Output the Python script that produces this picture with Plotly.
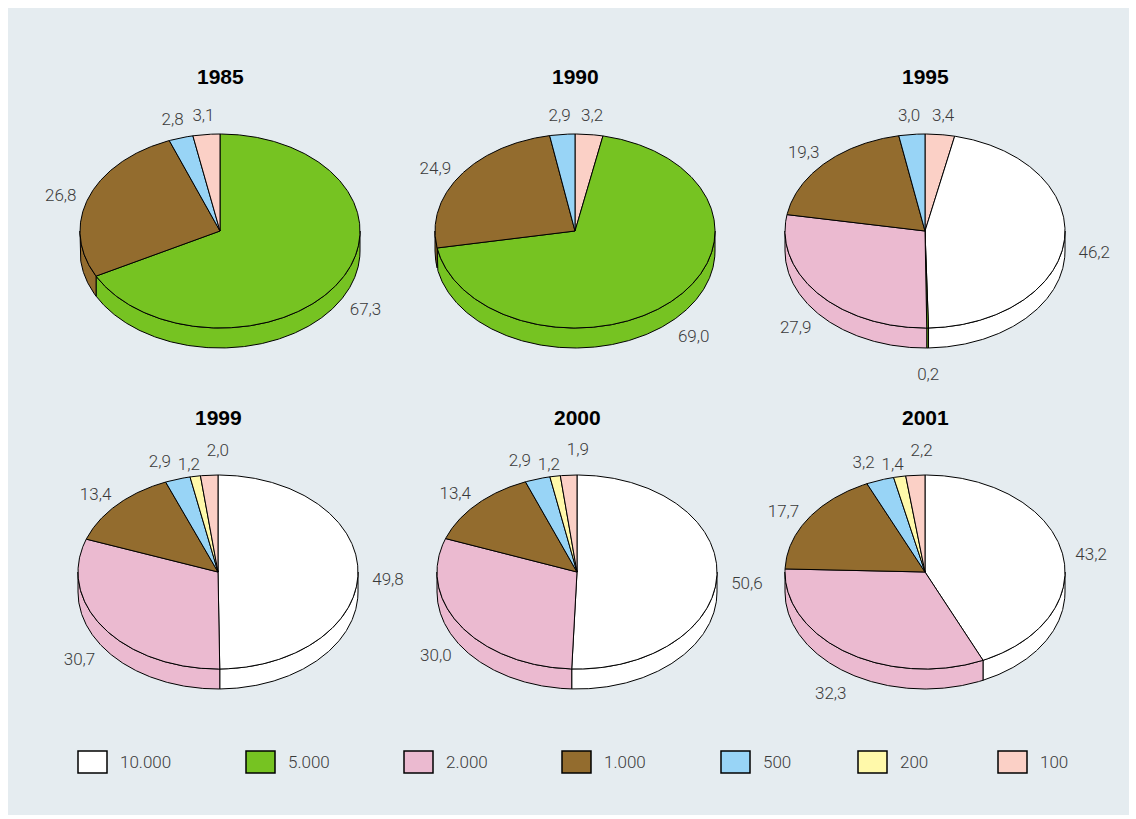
import numpy as np
import plotly.graph_objects as go

# ---------------- data ----------------
categories = ["10.000", "5.000", "2.000", "1.000", "500", "200", "100"]
colors = ["#ffffff", "#76c322", "#ebbad0", "#936c2e", "#98d4f6", "#fff9aa", "#fbd0c6"]
years = ["1985", "1990", "1995", "1999", "2000", "2001"]

share_1985 = [0.0, 67.3, 0.0, 26.8, 2.8, 0.0, 3.1]
share_1990 = [0.0, 69.0, 0.0, 24.9, 2.9, 0.0, 3.2]
share_1995 = [46.2, 0.2, 27.9, 19.3, 3.0, 0.0, 3.4]
share_1999 = [49.8, 0.0, 30.7, 13.4, 2.9, 1.2, 2.0]
share_2000 = [50.6, 0.0, 30.0, 13.4, 2.9, 1.2, 1.9]
share_2001 = [43.2, 0.0, 32.3, 17.7, 3.2, 1.4, 2.2]
shares = [share_1985, share_1990, share_1995, share_1999, share_2000, share_2001]

# category whose slice starts at 12 o'clock (slices run clockwise)
first_category = ["10.000", "100", "100", "10.000", "10.000", "10.000"]

# ---------------- layout constants ----------------
W, H = 1136, 819
CENTERS = [(220, 231), (575, 231), (925, 231), (218, 572), (577, 572), (925, 572)]
RX, RY, DEPTH = 140, 97, 20
TITLE_DY = -155
LABEL_FONT = dict(family="Roboto", size=17, color="#3a3a3a", weight=300)
MIN_GAP = 29  # minimal horizontal distance between crowded top labels

fig = go.Figure()


def ell(cx, cy, th_deg, dy=0.0):
    t = np.radians(th_deg)
    return cx + RX * np.sin(t), cy - RY * np.cos(t) + dy


def arc(a, b):
    n = max(2, int(abs(b - a) / 0.5) + 2)
    return np.linspace(a, b, n)


shapes = [dict(type="rect", xref="x", yref="y", x0=8, x1=1129, y0=8, y1=815,
               fillcolor="#e5ecf0", line=dict(width=0), layer="below")]
annotations = []

for year, vals, first, (cx, cy) in zip(years, shares, first_category, CENTERS):
    k = categories.index(first)
    order = [(k + i) % len(categories) for i in range(len(categories))]
    slices = []
    cum = 0.0
    total = sum(vals)
    for idx in order:
        v = vals[idx]
        if v <= 0:
            continue
        a = cum / total * 360.0
        b = (cum + v) / total * 360.0
        slices.append((idx, v, a, b))
        cum += v

    # side walls (front half only)
    for idx, v, a, b in slices:
        lo, hi = max(a, 90.0), min(b, 270.0)
        if hi <= lo:
            continue
        th = arc(lo, hi)
        xt, yt = ell(cx, cy, th)
        xb, yb = ell(cx, cy, th[::-1], DEPTH)
        xs = np.concatenate([xt, xb, xt[:1]])
        ys = np.concatenate([yt, yb, yt[:1]])
        fig.add_trace(go.Scatter(x=xs, y=ys, mode="lines", fill="toself",
                                 fillcolor=colors[idx], line=dict(color="black", width=1),
                                 hoverinfo="skip", showlegend=False))

    # top faces
    for idx, v, a, b in slices:
        th = arc(a, b)
        xa, ya = ell(cx, cy, th)
        xs = np.concatenate([[cx], xa, [cx]])
        ys = np.concatenate([[cy], ya, [cy]])
        fig.add_trace(go.Scatter(x=xs, y=ys, mode="lines", fill="toself",
                                 fillcolor=colors[idx], line=dict(color="black", width=1),
                                 hoverinfo="skip", showlegend=False))

    # value labels
    labels = []
    for idx, v, a, b in slices:
        m = np.radians((a + b) / 2)
        vv = -np.cos(m)
        labels.append([cx + 170 * np.sin(m), cy + 10 + 125 * vv + 10 * max(vv, 0),
                       f"{v:.1f}".replace(".", ","), vv < -0.85])
    # spread crowded labels near the top
    top = sorted([l for l in labels if l[3]], key=lambda l: l[0])
    for _ in range(60):
        for p, q in zip(top[:-1], top[1:]):
            d = q[0] - p[0]
            if d < MIN_GAP:
                s = (MIN_GAP - d) / 2
                p[0] -= s
                q[0] += s
    if len(top) >= 3:
        for i in range(1, len(top) - 1):
            top[i][1] += 7
        top[-1][1] -= 6
    fig.add_trace(go.Scatter(x=[l[0] for l in labels], y=[l[1] for l in labels],
                             text=[l[2] for l in labels], mode="text",
                             textposition="middle center", textfont=LABEL_FONT,
                             hoverinfo="skip", showlegend=False))

    annotations.append(dict(x=cx, y=cy + TITLE_DY, xref="x", yref="y", text=f"<b>{year}</b>",
                            showarrow=False, xanchor="center", yanchor="middle",
                            font=dict(family="Liberation Sans", size=21, color="black")))

# legend
legend_x = [78, 246, 404, 562, 721, 858, 998]
for cat, col, x0 in zip(categories, colors, legend_x):
    shapes.append(dict(type="rect", xref="x", yref="y", x0=x0, x1=x0 + 29, y0=751, y1=773,
                       fillcolor=col, line=dict(color="black", width=1.5), layer="above"))
    annotations.append(dict(x=x0 + 40, y=762, xref="x", yref="y", text=cat, showarrow=False,
                            xanchor="left", yanchor="middle", font=LABEL_FONT))

fig.update_layout(
    width=W, height=H, margin=dict(l=0, r=0, t=0, b=0),
    paper_bgcolor="white", plot_bgcolor="white",
    xaxis=dict(range=[0, W], visible=False, fixedrange=True),
    yaxis=dict(range=[H, 0], visible=False, fixedrange=True),
    shapes=shapes, annotations=annotations, showlegend=False,
)

fig.write_html("out.html")
